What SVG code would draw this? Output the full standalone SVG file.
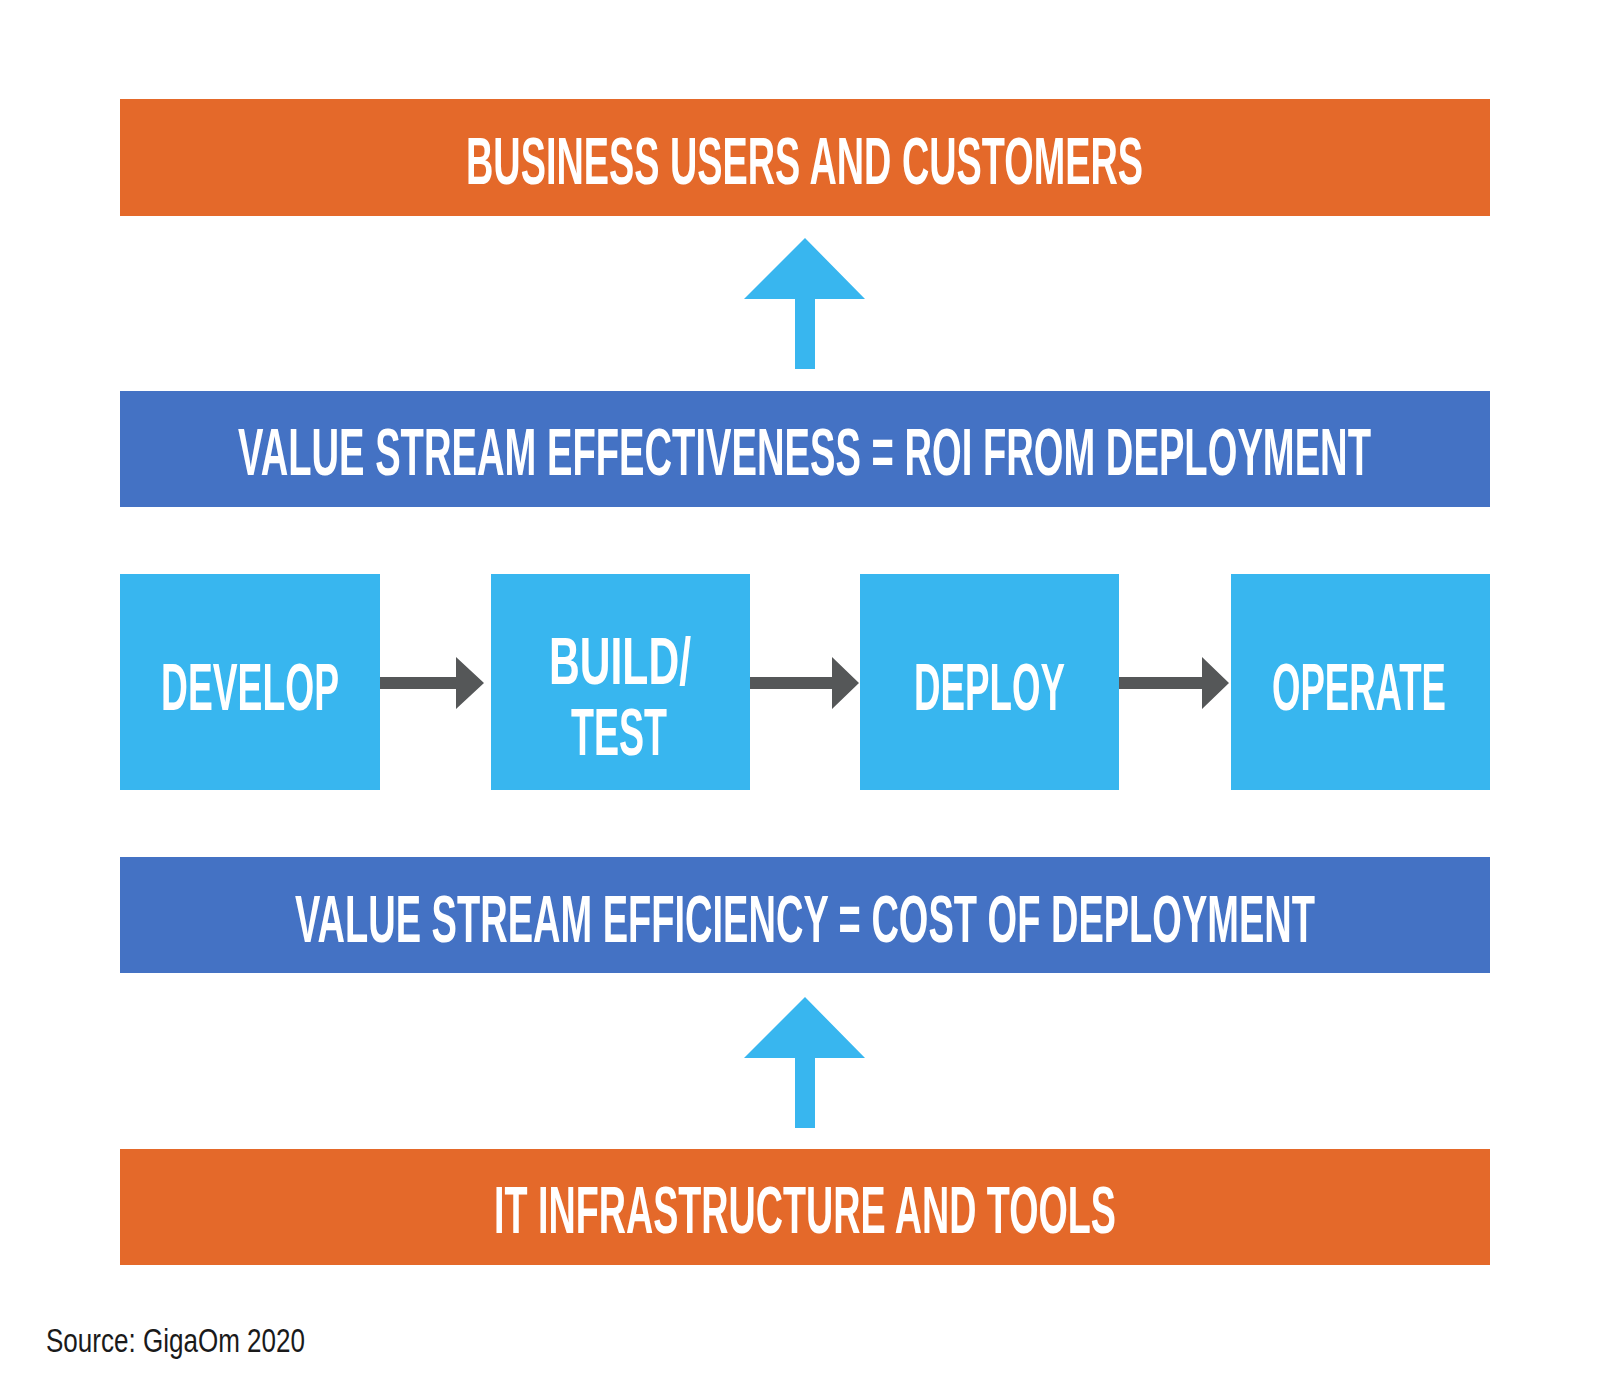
<svg xmlns="http://www.w3.org/2000/svg" width="1600" height="1385" viewBox="0 0 1600 1385">
<style>
.orange{fill:#E4692A}
.bar{fill:#4472C4}
.box{fill:#38B6EF}
.up{fill:#38B6EF}
.gray{fill:#555758}
.t{font-family:"Liberation Sans Narrow","Liberation Sans",Arial,sans-serif;font-weight:bold;font-size:67px;fill:#FFFFFF}
.src{font-family:"Liberation Sans Narrow","Liberation Sans",Arial,sans-serif;font-size:34px;fill:#1a1a1a}
</style>
<rect width="1600" height="1385" fill="#FFFFFF"/>
<g id="business-users">
<rect class="orange" x="120" y="99" width="1370" height="117"/>
<text class="t" x="466" y="184" textLength="677" lengthAdjust="spacingAndGlyphs">BUSINESS USERS AND CUSTOMERS</text>
</g>
<g id="effectiveness">
<rect class="bar" x="120" y="391" width="1370" height="116"/>
<text class="t" x="238" y="475" textLength="1133" lengthAdjust="spacingAndGlyphs">VALUE STREAM EFFECTIVENESS = ROI FROM DEPLOYMENT</text>
</g>
<g id="develop">
<rect class="box" x="120" y="574" width="260" height="216"/>
<text class="t" x="161" y="710" textLength="178" lengthAdjust="spacingAndGlyphs">DEVELOP</text>
</g>
<g id="build-test">
<rect class="box" x="491" y="574" width="259" height="216"/>
<text class="t" x="549" y="684" textLength="142" lengthAdjust="spacingAndGlyphs">BUILD/</text>
<text class="t" x="571" y="755" textLength="96" lengthAdjust="spacingAndGlyphs">TEST</text>
</g>
<g id="deploy">
<rect class="box" x="860" y="574" width="259" height="216"/>
<text class="t" x="914" y="710" textLength="151" lengthAdjust="spacingAndGlyphs">DEPLOY</text>
</g>
<g id="operate">
<rect class="box" x="1231" y="574" width="259" height="216"/>
<text class="t" x="1272" y="710" textLength="174" lengthAdjust="spacingAndGlyphs">OPERATE</text>
</g>
<g id="efficiency">
<rect class="bar" x="120" y="857" width="1370" height="116"/>
<text class="t" x="295" y="942" textLength="1020" lengthAdjust="spacingAndGlyphs">VALUE STREAM EFFICIENCY = COST OF DEPLOYMENT</text>
</g>
<g id="it-infrastructure">
<rect class="orange" x="120" y="1149" width="1370" height="116"/>
<text class="t" x="494" y="1233" textLength="622" lengthAdjust="spacingAndGlyphs">IT INFRASTRUCTURE AND TOOLS</text>
</g>
<g id="connectors">
<polygon class="up" points="805,238 865,299 815,299 815,369 795,369 795,299 744,299"/>
<polygon class="up" points="805,997 865,1058 815,1058 815,1128 795,1128 795,1058 744,1058"/>
<polygon class="gray" points="380,677 456,677 456,657 484,683 456,709 456,689 380,689"/>
<polygon class="gray" points="750,677 832,677 832,657 859,683 832,709 832,689 750,689"/>
<polygon class="gray" points="1119,677 1202,677 1202,657 1229,683 1202,709 1202,689 1119,689"/>
</g>
<text class="src" x="46" y="1352" textLength="259" lengthAdjust="spacingAndGlyphs">Source: GigaOm 2020</text>
</svg>
